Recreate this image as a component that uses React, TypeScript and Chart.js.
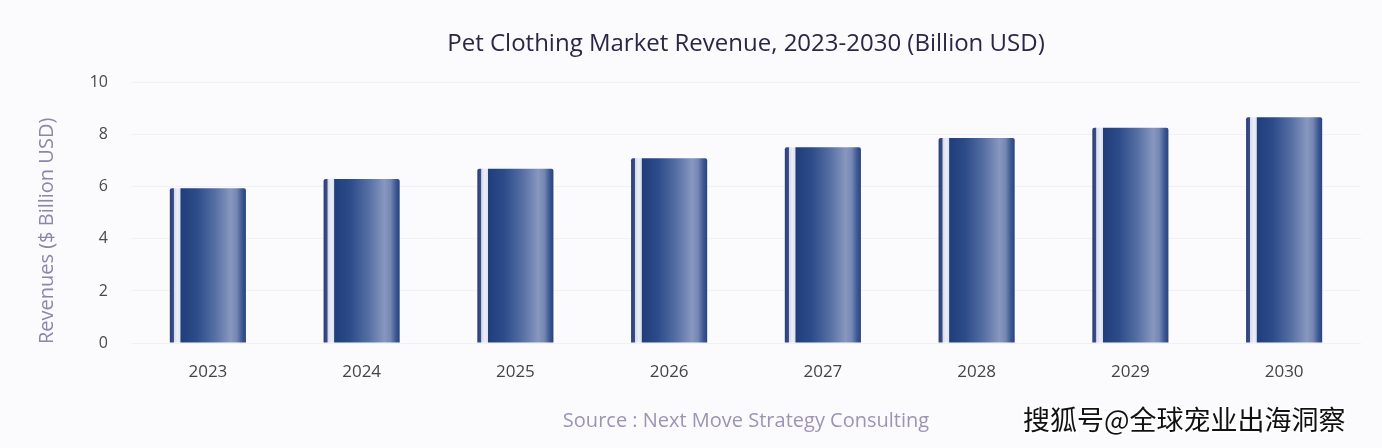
import React, { useEffect, useRef } from 'react';
import { Chart, registerables } from 'chart.js';

Chart.register(...registerables);

// ---- Data ----
const categories: string[] = ['2023', '2024', '2025', '2026', '2027', '2028', '2029', '2030'];
const revenues: number[] = [5.95, 6.3, 6.7, 7.1, 7.52, 7.88, 8.27, 8.68];
const yMin = 0;
const yMax = 10;
const yStep = 2;

// ---- Texts ----
const titleText = 'Pet Clothing Market Revenue, 2023-2030 (Billion USD)';
const yAxisTitle = 'Revenues ($ Billion USD)';
const sourceText = 'Source : Next Move Strategy Consulting';
const watermarkText = '搜狐号@全球宠业出海洞察';

const BAR_PCT = 0.5;
const CAT_PCT = 0.99;

function barGradient(ctx: any) {
  const chart = ctx.chart;
  const xs = chart.scales && chart.scales.x;
  if (!chart.chartArea || !xs) return '#2c4a85';
  const cx = xs.getPixelForValue(ctx.dataIndex);
  const w = (xs.width / categories.length) * BAR_PCT * CAT_PCT;
  const x0 = cx - w / 2;
  const g = chart.ctx.createLinearGradient(x0, 0, x0 + w, 0);
  g.addColorStop(0.0, '#2b3f77');
  g.addColorStop(0.048, '#3a4e88');
  g.addColorStop(0.056, '#d6daea');
  g.addColorStop(0.1, '#eceef6');
  g.addColorStop(0.135, '#dfe2ef');
  g.addColorStop(0.145, '#213e7b');
  g.addColorStop(0.35, '#2c4b89');
  g.addColorStop(0.6, '#5770a5');
  g.addColorStop(0.8, '#8797bf');
  g.addColorStop(0.88, '#7587b3');
  g.addColorStop(0.95, '#3d5891');
  g.addColorStop(1.0, '#274380');
  return g;
}

// Y-axis title drawn beside the y scale (offset a little below the axis centre, as in the source)
const yTitlePlugin = {
  id: 'yTitle',
  afterDraw(chart: any) {
    const ys = chart.scales.y;
    if (!ys) return;
    const { ctx } = chart;
    ctx.save();
    ctx.translate(ys.left + 37, (ys.top + ys.bottom) / 2 + 18);
    ctx.rotate(-Math.PI / 2);
    ctx.textAlign = 'center';
    ctx.textBaseline = 'middle';
    ctx.fillStyle = '#8d85aa';
    ctx.font = '20px "Open Sans"';
    ctx.fillText(yAxisTitle, 0, 0);
    ctx.restore();
  },
};

export default function App() {
  const canvasRef = useRef<HTMLCanvasElement | null>(null);

  useEffect(() => {
    const canvas = canvasRef.current;
    if (!canvas) return;
    const chart = new Chart(canvas, {
      type: 'bar',
      data: {
        labels: categories,
        datasets: [
          {
            label: 'Revenue',
            data: revenues,
            backgroundColor: barGradient as any,
            borderWidth: 0,
            borderRadius: { topLeft: 2, topRight: 2, bottomLeft: 0, bottomRight: 0 },
            barPercentage: BAR_PCT,
            categoryPercentage: CAT_PCT,
          },
        ],
      },
      plugins: [yTitlePlugin],
      options: {
        responsive: false,
        animation: false,
        layout: { padding: { left: 10, right: 21, top: 8, bottom: 4 } },
        plugins: {
          legend: { display: false },
          tooltip: { enabled: false },
          title: {
            display: true,
            text: titleText,
            fullSize: false,
            color: '#2d2545',
            font: { family: 'Open Sans', size: 24, weight: 'normal' },
            padding: { top: 22, bottom: 24 },
          },
          subtitle: {
            display: true,
            position: 'bottom',
            text: sourceText,
            fullSize: false,
            color: '#9d93b5',
            font: { family: 'Open Sans', size: 20, weight: 'normal' },
            padding: { top: 28, bottom: 11 },
          },
        },
        scales: {
          x: {
            grid: { display: false, drawTicks: false },
            border: { display: false },
            ticks: {
              color: '#444444',
              font: { family: 'Open Sans', size: 17 },
              padding: 19,
              maxRotation: 0,
            },
            afterFit: (scale: any) => {
              scale.height = 38;
            },
          },
          y: {
            min: yMin,
            max: yMax,
            ticks: {
              stepSize: yStep,
              color: '#4a4a4a',
              font: { family: 'Open Sans', size: 16 },
              padding: 23,
            },
            grid: { color: '#f0f1f5', drawTicks: false },
            border: { display: false },
            afterFit: (scale: any) => {
              scale.width = 121;
            },
          },
        },
      },
    });
    return () => chart.destroy();
  }, []);

  return (
    <div
      style={{
        position: 'absolute',
        left: 0,
        top: 0,
        width: 1382,
        height: 448,
        background: '#fbfbfd',
        overflow: 'hidden',
      }}
    >
      <canvas ref={canvasRef} width={1382} height={448} style={{ display: 'block' }} />
      <div
        style={{
          position: 'absolute',
          left: 1023,
          top: 404,
          fontFamily: '"Noto Sans CJK SC", sans-serif',
          fontSize: 27,
          lineHeight: '30px',
          color: '#111111',
          whiteSpace: 'nowrap',
          textShadow:
            '1px 1px 0 #fff, -1px -1px 0 #fff, 1px -1px 0 #fff, -1px 1px 0 #fff, 2px 2px 1px #fff',
        }}
      >
        {watermarkText}
      </div>
    </div>
  );
}
